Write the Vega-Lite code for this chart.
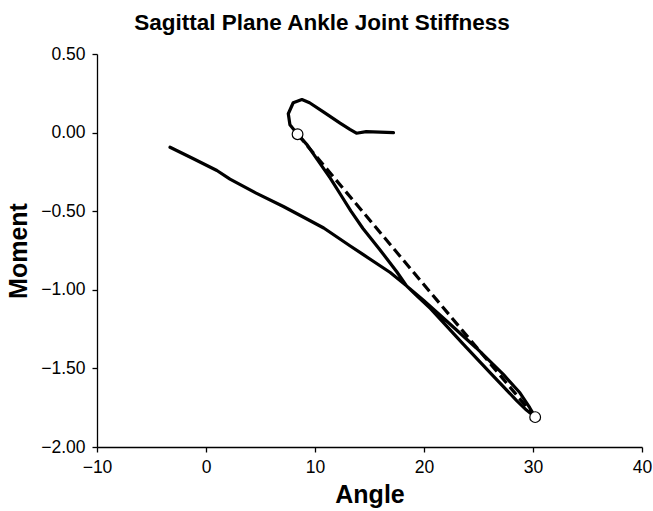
{
  "$schema": "https://vega.github.io/schema/vega-lite/v6.json",
  "width": 545,
  "height": 393,
  "autosize": {"type": "none"},
  "padding": {"left": 97, "top": 54, "right": 11, "bottom": 64},
  "background": "white",
  "config": {"view": {"stroke": null}, "font": "Liberation Sans"},
  "title": {"text": "Sagittal Plane Ankle Joint Stiffness", "fontSize": 22.5, "fontWeight": "bold", "font": "Liberation Sans", "color": "black", "anchor": "middle", "frame": "group", "dx": -47.5, "offset": 22, "dy": 29, "baseline": "alphabetic"},
  "data": {"values": [
    {"part": "loop", "step": 1, "angle": -3.3, "moment": -0.093},
    {"part": "loop", "step": 2, "angle": -1.2, "moment": -0.165},
    {"part": "loop", "step": 3, "angle": 1.0, "moment": -0.241},
    {"part": "loop", "step": 4, "angle": 2.2, "moment": -0.296},
    {"part": "loop", "step": 5, "angle": 4.6, "moment": -0.385},
    {"part": "loop", "step": 6, "angle": 7.1, "moment": -0.47},
    {"part": "loop", "step": 7, "angle": 9.0, "moment": -0.54},
    {"part": "loop", "step": 8, "angle": 10.8, "moment": -0.607},
    {"part": "loop", "step": 9, "angle": 13.2, "moment": -0.72},
    {"part": "loop", "step": 10, "angle": 14.4, "moment": -0.775},
    {"part": "loop", "step": 11, "angle": 16.9, "moment": -0.89},
    {"part": "loop", "step": 12, "angle": 18.4, "moment": -0.975},
    {"part": "loop", "step": 13, "angle": 20.0, "moment": -1.07},
    {"part": "loop", "step": 14, "angle": 22.1, "moment": -1.2},
    {"part": "loop", "step": 15, "angle": 24.8, "moment": -1.37},
    {"part": "loop", "step": 16, "angle": 27.3, "moment": -1.54},
    {"part": "loop", "step": 17, "angle": 28.8, "moment": -1.655},
    {"part": "loop", "step": 18, "angle": 29.7, "moment": -1.75},
    {"part": "loop", "step": 19, "angle": 30.2, "moment": -1.81},
    {"part": "loop", "step": 20, "angle": 29.4, "moment": -1.765},
    {"part": "loop", "step": 21, "angle": 28.5, "moment": -1.705},
    {"part": "loop", "step": 22, "angle": 26.1, "moment": -1.53},
    {"part": "loop", "step": 23, "angle": 23.6, "moment": -1.345},
    {"part": "loop", "step": 24, "angle": 20.6, "moment": -1.12},
    {"part": "loop", "step": 25, "angle": 19.3, "moment": -1.035},
    {"part": "loop", "step": 26, "angle": 18.4, "moment": -0.975},
    {"part": "loop", "step": 27, "angle": 17.5, "moment": -0.885},
    {"part": "loop", "step": 28, "angle": 15.9, "moment": -0.74},
    {"part": "loop", "step": 29, "angle": 14.4, "moment": -0.61},
    {"part": "loop", "step": 30, "angle": 13.3, "moment": -0.5},
    {"part": "loop", "step": 31, "angle": 12.4, "moment": -0.4},
    {"part": "loop", "step": 32, "angle": 11.4, "moment": -0.29},
    {"part": "loop", "step": 33, "angle": 10.2, "moment": -0.17},
    {"part": "loop", "step": 34, "angle": 9.3, "moment": -0.08},
    {"part": "loop", "step": 35, "angle": 8.4, "moment": -0.01},
    {"part": "loop", "step": 36, "angle": 7.7, "moment": 0.05},
    {"part": "loop", "step": 37, "angle": 7.55, "moment": 0.12},
    {"part": "loop", "step": 38, "angle": 8.0, "moment": 0.19},
    {"part": "loop", "step": 39, "angle": 8.8, "moment": 0.21},
    {"part": "loop", "step": 40, "angle": 9.5, "moment": 0.19},
    {"part": "loop", "step": 41, "angle": 10.8, "moment": 0.13},
    {"part": "loop", "step": 42, "angle": 12.3, "moment": 0.06},
    {"part": "loop", "step": 43, "angle": 13.2, "moment": 0.02},
    {"part": "loop", "step": 44, "angle": 13.8, "moment": -0.004},
    {"part": "loop", "step": 45, "angle": 14.7, "moment": 0.006},
    {"part": "loop", "step": 46, "angle": 17.2, "moment": 0.0},
    {"part": "chord", "step": 1, "angle": 8.4, "moment": -0.01},
    {"part": "chord", "step": 2, "angle": 30.2, "moment": -1.81},
    {"part": "marker", "step": 1, "angle": 8.4, "moment": -0.01},
    {"part": "marker", "step": 2, "angle": 30.2, "moment": -1.81}
  ]},
  "encoding": {
    "x": {"field": "angle", "type": "quantitative", "scale": {"domain": [-10, 40], "nice": false, "zero": false},
      "axis": {"values": [-10, 0, 10, 20, 30, 40], "format": "d", "grid": false, "domainColor": "black", "domainWidth": 1.3, "tickColor": "black", "tickWidth": 1.3, "tickSize": 5, "labelFontSize": 17.5, "labelColor": "black", "labelFont": "Liberation Sans", "labelPadding": 6, "labelFlush": false, "labelOverlap": false,
        "title": "Angle", "titleFont": "Liberation Sans", "titleFontSize": 25, "titleFontWeight": "bold", "titleColor": "black", "titleX": 272.5, "titleY": 55, "titleBaseline": "alphabetic", "titleAlign": "center"}},
    "y": {"field": "moment", "type": "quantitative", "scale": {"domain": [-2, 0.5], "nice": false, "zero": false},
      "axis": {"values": [-2, -1.5, -1, -0.5, 0, 0.5], "format": ".2f", "grid": false, "domainColor": "black", "domainWidth": 1.3, "tickColor": "black", "tickWidth": 1.3, "tickSize": 5, "labelFontSize": 17.5, "labelColor": "black", "labelFont": "Liberation Sans", "labelPadding": 7, "labelFlush": false, "labelOverlap": false,
        "title": "Moment", "titleFont": "Liberation Sans", "titleFontSize": 25, "titleFontWeight": "bold", "titleColor": "black", "titleAngle": -90, "titleX": -71, "titleY": 196.5, "titleBaseline": "alphabetic", "titleAlign": "center"}}
  },
  "layer": [
    {"transform": [{"filter": "datum.part === 'loop'"}], "mark": {"type": "line", "color": "black", "strokeWidth": 3.2, "strokeJoin": "round", "strokeCap": "round"}, "encoding": {"order": {"field": "step", "type": "quantitative"}}},
    {"transform": [{"filter": "datum.part === 'chord'"}], "mark": {"type": "line", "color": "black", "strokeWidth": 3.2, "strokeDash": [10, 5]}, "encoding": {"order": {"field": "step", "type": "quantitative"}}},
    {"transform": [{"filter": "datum.part === 'marker'"}], "mark": {"type": "point", "shape": "circle", "filled": true, "fill": "white", "stroke": "black", "strokeWidth": 1.2, "size": 115, "opacity": 1}}
  ]
}
